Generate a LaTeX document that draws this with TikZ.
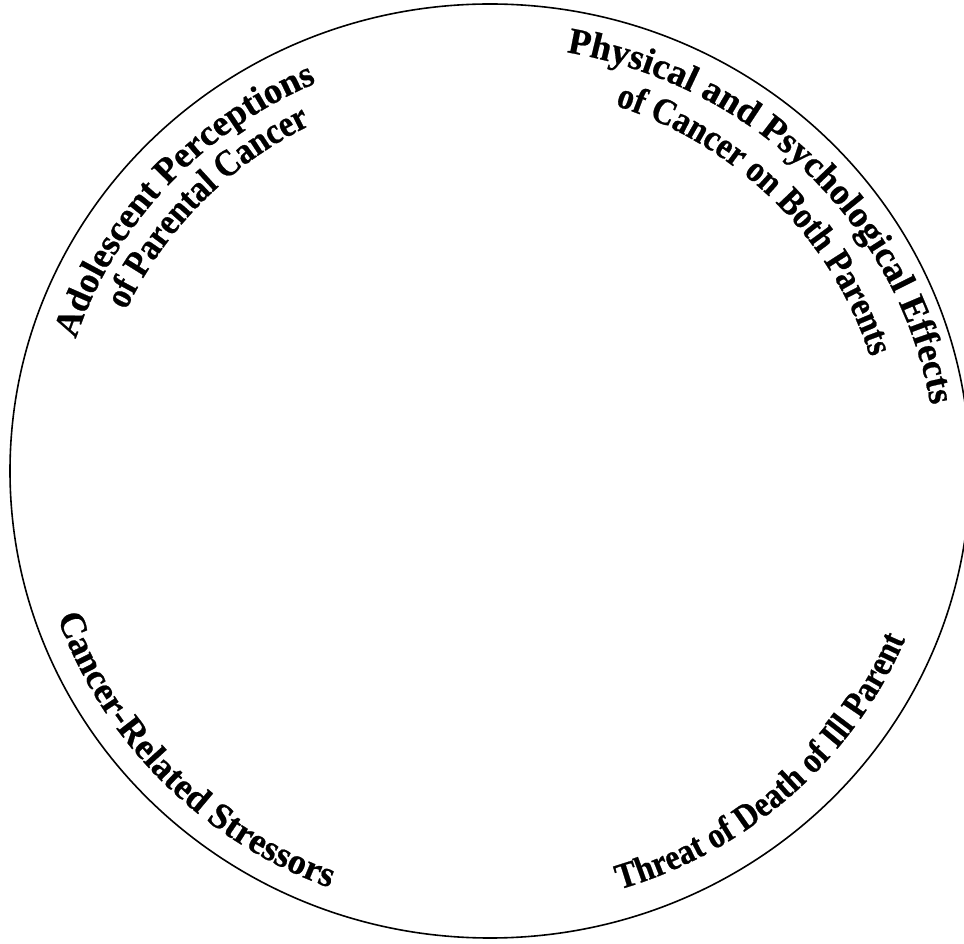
\documentclass[tikz,border=0pt]{standalone}
\usepackage{fontspec}
\setmainfont{Liberation Serif}
\newfontfamily\arcfont{Liberation Serif Bold}[FakeBold=0.6]
\newfontfamily\arcnarrowfont{Liberation Serif Bold}[FakeBold=0.6, FakeStretch=0.88]
\usetikzlibrary{decorations.text}

\begin{document}
\begin{tikzpicture}[x=0.75pt, y=0.75pt,
        ring/.style={line width=1.2pt},
        arctext/.style={decorate, decoration={text along path, text align=center, text={#1}}}
    ]
    \useasboundingbox (0,0) rectangle (964,943);
    \coordinate (c) at (490,472);
    \coordinate (cr) at (490,465);

    % Outer ring
    \draw[ring] (c) ellipse [x radius=480, y radius=467];

    % Top left
    \path[arctext={|\fontsize{27.4}{30}\arcfont|Adolescent Perceptions}]
        (c) ++(188:436 and 423) arc[start angle=188, end angle=88, x radius=436, y radius=423];
    \path[arctext={|\fontsize{28}{30}\arcnarrowfont|of Parental Cancer}]
        (c) ++(186:400 and 387) arc[start angle=186, end angle=87, x radius=400, y radius=387];

    % Top right
    \path[arctext={|\fontsize{27.7}{30}\arcfont|Physical and Psychological Effects}]
        (cr) ++(104.5:447 and 432) arc[start angle=104.5, end angle=-15.5, x radius=447, y radius=432];
    \path[arctext={|\fontsize{28}{30}\arcnarrowfont|of Cancer on Both Parents}]
        (c) ++(99:398 and 385) arc[start angle=99, end angle=-11, x radius=398, y radius=385];

    % Bottom left
    \path[arctext={|\fontsize{27.4}{30}\arcfont|Cancer-Related Stressors}]
        (c) ++(174:458 and 445) arc[start angle=174, end angle=274, x radius=458, y radius=445];

    % Bottom right
    \path[arctext={|\fontsize{27.3}{30}\arcnarrowfont|Threat of Death of Ill Parent}]
        (c) ++(262.4:450 and 437) arc[start angle=262.4, end angle=362.4, x radius=450, y radius=437];

\end{tikzpicture}
\end{document}
